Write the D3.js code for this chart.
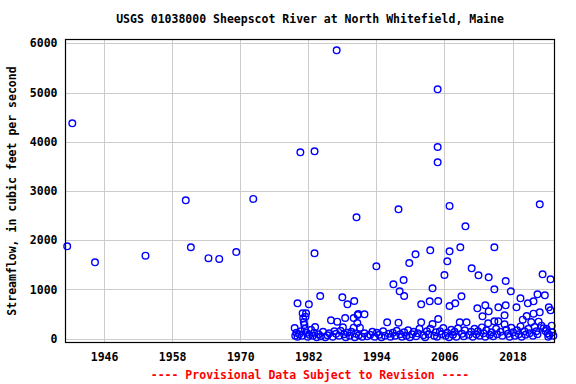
<!DOCTYPE html>
<html>
<head>
<meta charset="utf-8">
<script src="https://cdn.jsdelivr.net/npm/d3@7"></script>
<style>
  body { margin: 0; background: #fff; }
  text { font-family: "DejaVu Sans Mono", monospace; font-weight: bold; }
</style>
</head>
<body>
<svg id="chart" width="576" height="384"></svg>
<script>
// x tick labels (years) and y ticks
var xTicks = [1946, 1958, 1970, 1982, 1994, 2006, 2018];
var yTicks = [0, 1000, 2000, 3000, 4000, 5000, 6000];

// early record, [year, cfs]
var earlyPts = [[1939.5,1877],[1940.4,4375],[1944.4,1552],[1953.3,1686],[1960.4,2811],
  [1961.3,1857],[1964.4,1636],[1966.3,1620],[1969.3,1760],[1972.3,2840]];

// higher flows since 1980
var highPts = [[1987.0,5858],[2004.8,5066],[1980.6,3786],[1983.1,3806],[2004.8,3894],
  [2004.8,3583],[1990.5,2466],[1997.9,2628],[2006.9,2696],[2022.8,2730],[2009.7,2283],
  [1983.1,1734],[1994.0,1470],[1997.0,1105],[1998.8,1192],[1998.1,962],[1998.9,867],
  [1999.8,1537],[2000.9,1714],[2003.5,1796],[2006.9,1775],[2006.5,1572],[2006.0,1294],
  [2003.9,1024],[2008.8,1857],[2014.8,1857],[2010.8,1430],[2012.0,1288],[2013.8,1247],
  [2016.8,1172],[2023.3,1308],[2024.7,1207],[2014.8,1003],[2017.7,962]];

// mid flows
var midPts = [[2001.9,699],[2003.4,760],[2004.9,766],[2006.9,664],[2007.9,719],[2009.0,861],
  [2011.8,617],[2013.2,678],[2012.7,455],[2013.8,557],[2015.5,638],[2016.8,678],[2016.6,475],
  [2018.7,638],[2019.4,820],[2020.7,719],[2021.7,760],[2022.4,902],[2023.7,881],[2024.4,638],
  [2024.7,577],[2021.7,508],[2022.8,536],[1980.1,719],[1982.1,699],[1984.1,867],[1988.0,841],
  [1988.9,699],[1990.1,766],[1991.9,495],[1990.8,501],[1988.5,420],[1990.0,420],[1990.7,480]];

// low flows
var lowPts = [[1979.6,217],[1979.7,60],[1979.9,120],[1980.1,40],[1980.4,90],
  [1980.7,150],[1980.9,60],[1981.0,516],[1981.1,414],[1981.2,340],[1981.3,280],[1981.4,200],
  [1981.5,447],[1981.6,516],[1981.7,120],[1981.9,40],[1982.2,80],[1982.5,180],[1982.8,60],
  [1983.0,120],[1983.2,238],[1983.5,30],[1983.8,90],[1984.2,50],[1984.6,140],[1985.0,30],
  [1985.4,70],[1985.7,110],[1986.0,373],[1986.3,40],[1986.6,150],[1986.9,100],[1987.1,345],
  [1987.4,60],[1987.7,160],[1988.1,231],[1988.3,90],[1988.6,30],[1988.9,120],[1989.3,60],
  [1989.6,140],[1990.0,224],[1990.2,30],[1990.4,100],[1990.65,318],[1990.9,70],[1991.1,224],
  [1991.5,40],[1991.9,110],[1992.4,50],[1992.9,80],[1993.3,140],[1993.7,40],[1994.1,120],
  [1994.5,80],[1994.9,30],[1995.2,150],[1995.5,60],[1995.9,333],[1996.2,100],[1996.5,40],
  [1996.9,120],[1997.3,60],[1997.6,160],[1997.9,325],[1998.2,90],[1998.5,40],[1998.9,130],
  [1999.3,60],[1999.6,170],[1999.9,30],[2000.3,90],[2000.6,140],[2001.0,50],[2001.3,110],
  [2001.6,200],[2001.9,333],[2002.3,70],[2002.6,30],[2002.9,150],[2003.2,90],[2003.5,200],
  [2003.9,299],[2004.2,60],[2004.5,130],[2004.7,40],[2004.9,400],[2005.2,150],[2005.5,90],
  [2005.8,217],[2006.2,60],[2006.5,120],[2006.8,30],[2007.2,180],[2007.5,80],[2007.8,140],
  [2008.1,40],[2008.4,210],[2008.7,333],[2009.1,100],[2009.4,50],[2009.6,170],[2009.9,333],
  [2010.3,80],[2010.7,140],[2011.0,40],[2011.3,200],[2011.6,90],[2011.9,150],[2012.2,60],
  [2012.6,230],[2012.9,110],[2013.2,40],[2013.4,170],[2013.7,313],[2014.0,80],[2014.3,130],
  [2014.6,50],[2014.8,353],[2015.1,200],[2015.3,90],[2015.5,353],[2015.9,140],[2016.2,60],
  [2016.6,293],[2016.9,180],[2017.2,100],[2017.5,40],[2017.8,220],[2018.1,130],[2018.4,60],
  [2018.8,170],[2019.1,90],[2019.4,250],[2019.6,40],[2019.8,386],[2020.1,150],[2020.3,80],
  [2020.5,461],[2020.8,200],[2021.0,110],[2021.3,339],[2021.6,60],[2021.9,240],[2022.2,150],
  [2022.4,90],[2022.6,345],[2023.1,264],[2023.5,211],[2023.8,156],[2024.2,109],[2024.5,75],
  [2024.0,200],[2024.3,40],[2024.9,264],[2025.0,130],[2025.2,60]];

var allPts = earlyPts.concat(highPts, midPts, lowPts);

var svg = d3.select("#chart");
var pl = 65.5, pr = 554.5, pt = 39.5, pb = 342.5;

var x = d3.scaleLinear().domain([1939.2, 2025.4]).range([pl, pr]);
var y = d3.scaleLinear().domain([0, 6000]).range([338.7, 43.3]);

// grid
svg.append("g").selectAll("line").data(xTicks).enter()
  .append("line")
  .attr("x1", function(d) { return Math.round(x(d)) + 0.5; })
  .attr("x2", function(d) { return Math.round(x(d)) + 0.5; })
  .attr("y1", pt).attr("y2", pb)
  .attr("stroke", "#cccccc").attr("stroke-width", 1);
svg.append("g").selectAll("line").data(yTicks).enter()
  .append("line")
  .attr("y1", function(d) { return Math.round(y(d)) + 0.5; })
  .attr("y2", function(d) { return Math.round(y(d)) + 0.5; })
  .attr("x1", pl).attr("x2", pr)
  .attr("stroke", "#cccccc").attr("stroke-width", 1);

// points
svg.append("g").selectAll("circle").data(allPts).enter()
  .append("circle")
  .attr("cx", function(d) { return x(d[0]); })
  .attr("cy", function(d) { return y(d[1]); })
  .attr("r", 3.3)
  .attr("fill", "none")
  .attr("stroke", "#0000ff")
  .attr("stroke-width", 1.4);

// frame
svg.append("rect")
  .attr("x", pl).attr("y", pt)
  .attr("width", pr - pl).attr("height", pb - pt)
  .attr("fill", "none").attr("stroke", "#000").attr("stroke-width", 1.2);

// axes labels (no tick marks)
var xAxis = d3.axisBottom(x).tickValues(xTicks).tickFormat(d3.format("d")).tickSize(0).tickPadding(10);
svg.append("g").attr("transform", "translate(0," + pb + ")").call(xAxis)
  .call(function(g) { g.select(".domain").remove(); })
  .selectAll("text").attr("font-size", "11.5px").attr("fill", "#000")
  .style("font-family", "'DejaVu Sans Mono', monospace").style("font-weight", "bold");

var yAxis = d3.axisLeft(y).tickValues(yTicks).tickFormat(d3.format("d")).tickSize(0).tickPadding(8);
svg.append("g").attr("transform", "translate(" + pl + ",0)").call(yAxis)
  .call(function(g) { g.select(".domain").remove(); })
  .selectAll("text").attr("font-size", "11.5px").attr("fill", "#000")
  .style("font-family", "'DejaVu Sans Mono', monospace").style("font-weight", "bold");

// title
svg.append("text")
  .attr("x", (pl + pr) / 2).attr("y", 23)
  .attr("text-anchor", "middle").attr("font-size", "11.5px")
  .text("USGS 01038000 Sheepscot River at North Whitefield, Maine");

// y label
svg.append("text")
  .attr("transform", "translate(16," + ((pt + pb) / 2) + ") rotate(-90)")
  .attr("text-anchor", "middle").attr("font-size", "11.5px")
  .text("Streamflow, in cubic feet per second");

// footer
svg.append("text")
  .attr("x", (pl + pr) / 2).attr("y", 379)
  .attr("text-anchor", "middle").attr("font-size", "11.5px").attr("fill", "#ff0000")
  .text("---- Provisional Data Subject to Revision ----");
</script>
</body>
</html>
